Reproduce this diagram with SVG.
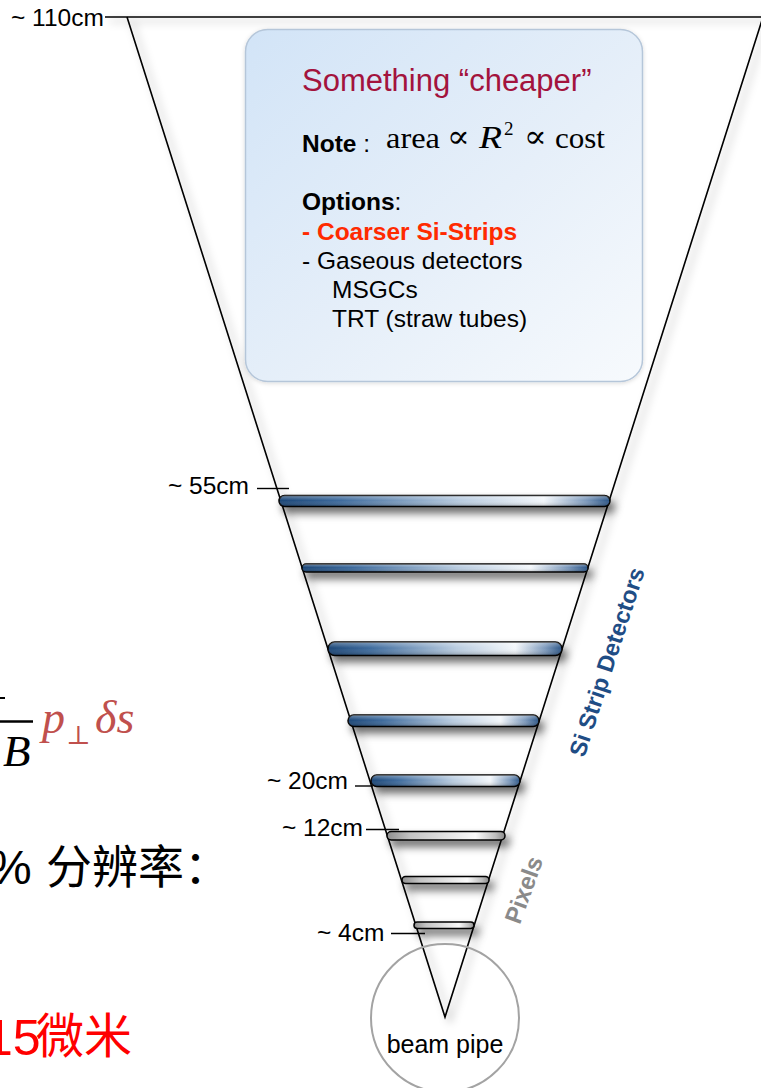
<svg xmlns="http://www.w3.org/2000/svg" width="761" height="1088" viewBox="0 0 761 1088">
  <style>
    .lbl { font-family: "Liberation Sans", Arial, sans-serif; font-size: 24.5px; fill: #000; }
    .box-txt { font-family: "Liberation Sans", Arial, sans-serif; font-size: 24.5px; }
    .math { font-family: "Liberation Serif", "DejaVu Serif", serif; font-size: 29px; fill: #000; }
    .prop { font-family: "DejaVu Serif", serif; font-size: 31px; }
    .edge { stroke: #000; stroke-width: 1.6; fill: none; }
    .tick { stroke: #000; stroke-width: 1.4; }
    .bar { stroke: #000; stroke-width: 1.5; }
  </style>
  <defs>
    <linearGradient id="blueTube" x1="0" y1="0" x2="1" y2="0">
      <stop offset="0" stop-color="#1b4677"/>
      <stop offset="0.18" stop-color="#3d6a9c"/>
      <stop offset="0.55" stop-color="#b9cce0"/>
      <stop offset="0.8" stop-color="#f3f7fb"/>
      <stop offset="0.93" stop-color="#7b98bb"/>
      <stop offset="1" stop-color="#2a5486"/>
    </linearGradient>
    <linearGradient id="greyTube" x1="0" y1="0" x2="1" y2="0">
      <stop offset="0" stop-color="#8f8f8f"/>
      <stop offset="0.2" stop-color="#c4c4c4"/>
      <stop offset="0.75" stop-color="#fafafa"/>
      <stop offset="0.92" stop-color="#bdbdbd"/>
      <stop offset="1" stop-color="#8a8a8a"/>
    </linearGradient>
    <linearGradient id="tubeGloss" x1="0" y1="0" x2="0" y2="1">
      <stop offset="0" stop-color="#fff" stop-opacity="0.35"/>
      <stop offset="0.45" stop-color="#fff" stop-opacity="0"/>
      <stop offset="1" stop-color="#000" stop-opacity="0.25"/>
    </linearGradient>
    <linearGradient id="boxFill" x1="0" y1="0" x2="1" y2="1">
      <stop offset="0" stop-color="#d2e4f7"/>
      <stop offset="0.55" stop-color="#e6eff9"/>
      <stop offset="1" stop-color="#f7fafd"/>
    </linearGradient>
    <filter id="coneShadow" x="-20%" y="-5%" width="140%" height="110%">
      <feDropShadow dx="5" dy="4" stdDeviation="4" flood-color="#000" flood-opacity="0.35"/>
    </filter>
    <filter id="tubeShadow" x="-10%" y="-100%" width="125%" height="400%">
      <feDropShadow dx="4" dy="6" stdDeviation="4" flood-color="#000" flood-opacity="0.6"/>
    </filter>
    <filter id="boxShadow" x="-10%" y="-10%" width="120%" height="120%">
      <feDropShadow dx="0" dy="1" stdDeviation="2" flood-color="#000" flood-opacity="0.15"/>
    </filter>
  </defs>

  <rect width="761" height="1088" fill="#fff"/>

  <!-- partial formulas and text on the left -->
  <g id="side-text">
    <line x1="0" y1="698" x2="5" y2="698" stroke="#000" stroke-width="2"/>
    <line x1="0" y1="721.5" x2="33" y2="721.5" stroke="#000" stroke-width="2.6"/>
    <text x="3" y="766" font-family="Liberation Serif, DejaVu Serif, serif" font-style="italic" font-size="45" fill="#000">B</text>
    <g font-family="Liberation Serif, DejaVu Serif, serif" font-style="italic" fill="#c0504d">
      <text x="42" y="733" font-size="46">p</text>
      <text x="66" y="744" font-size="26" font-style="normal">⊥</text>
      <text x="95" y="733" font-size="46">δs</text>
    </g>
    <text x="-11" y="884" font-family="Liberation Sans, Arial, sans-serif" font-size="48" fill="#000">%</text>
    <text x="46" y="883" font-family="Noto Sans CJK SC, sans-serif" font-size="46" fill="#000">分辨率：</text>
    <text x="-15" y="1055" font-family="Liberation Sans, Arial, sans-serif" font-size="50" fill="#ff0000">15</text>
    <text x="36" y="1053" font-family="Noto Sans CJK SC, sans-serif" font-size="48" fill="#ff0000">微米</text>
  </g>

  <!-- detector cone outline -->
  <g id="cone" filter="url(#coneShadow)">
    <polyline class="edge" points="105,17 763,17"/>
    <polyline class="edge" points="127,17 445,1017 763,17"/>
  </g>

  <!-- silicon strip layers -->
  <g id="strip-layers" filter="url(#tubeShadow)">
    <g id="strip-1"><rect class="bar" x="279" y="495.5" width="331" height="11" rx="5.5" fill="url(#blueTube)"/><rect x="279" y="495.5" width="331" height="11" rx="5.5" fill="url(#tubeGloss)"/></g>
    <g id="strip-2"><rect class="bar" x="302" y="564" width="286" height="8" rx="4" fill="url(#blueTube)"/><rect x="302" y="564" width="286" height="8" rx="4" fill="url(#tubeGloss)"/></g>
    <g id="strip-3"><rect class="bar" x="328" y="642" width="234" height="13.5" rx="6.7" fill="url(#blueTube)"/><rect x="328" y="642" width="234" height="13.5" rx="6.7" fill="url(#tubeGloss)"/></g>
    <g id="strip-4"><rect class="bar" x="348" y="715" width="191" height="11.5" rx="5.7" fill="url(#blueTube)"/><rect x="348" y="715" width="191" height="11.5" rx="5.7" fill="url(#tubeGloss)"/></g>
    <g id="strip-5"><rect class="bar" x="371" y="775" width="149" height="11.5" rx="5.7" fill="url(#blueTube)"/><rect x="371" y="775" width="149" height="11.5" rx="5.7" fill="url(#tubeGloss)"/></g>
  </g>

  <!-- pixel layers -->
  <g id="pixel-layers" filter="url(#tubeShadow)">
    <g id="pixel-1"><rect class="bar" x="387" y="831.5" width="118" height="8.5" rx="4.2" fill="url(#greyTube)"/></g>
    <g id="pixel-2"><rect class="bar" x="402" y="876.5" width="87" height="7" rx="3.5" fill="url(#greyTube)"/></g>
    <g id="pixel-3"><rect class="bar" x="414" y="922" width="60" height="6.5" rx="3.2" fill="url(#greyTube)"/></g>
  </g>

  <!-- radius labels -->
  <g id="radius-labels">
    <g id="r110"><text class="lbl" x="11" y="26">~ 110cm</text></g>
    <g id="r55"><text class="lbl" x="168" y="494">~ 55cm</text><line class="tick" x1="257" y1="488.5" x2="289" y2="488.5"/></g>
    <g id="r20"><text class="lbl" x="267" y="789">~ 20cm</text><line class="tick" x1="355" y1="786" x2="373" y2="786"/></g>
    <g id="r12"><text class="lbl" x="282" y="836">~ 12cm</text><line class="tick" x1="366" y1="829.5" x2="399" y2="829.5"/></g>
    <g id="r4"><text class="lbl" x="317" y="941">~ 4cm</text><line class="tick" x1="391" y1="933.5" x2="425" y2="933.5"/></g>
  </g>

  <!-- sub-detector names -->
  <g id="si-strip-label">
    <text transform="translate(607,662) rotate(-72)" text-anchor="middle" y="8" font-family="Liberation Sans, Arial, sans-serif" font-weight="bold" font-size="23.5" fill="#1f4d85">Si Strip Detectors</text>
  </g>
  <g id="pixels-label">
    <text transform="translate(524,890) rotate(-70)" text-anchor="middle" y="8" font-family="Liberation Sans, Arial, sans-serif" font-weight="bold" font-size="24" fill="#8a8a8a">Pixels</text>
  </g>

  <!-- beam pipe -->
  <g id="beam-pipe">
    <circle cx="445" cy="1018" r="74" fill="none" stroke="#a3a3a3" stroke-width="2"/>
    <text class="lbl" x="445" y="1053" text-anchor="middle" style="font-size:25px">beam pipe</text>
  </g>

  <!-- note box -->
  <g id="note-box">
    <rect x="245.5" y="29.5" width="397" height="352" rx="22" fill="url(#boxFill)" stroke="#b5c6d9" stroke-width="1.5" filter="url(#boxShadow)"/>
    <text x="302" y="91" font-family="Liberation Sans, Arial, sans-serif" font-size="31" fill="#a3133d">Something “cheaper”</text>
    <text class="box-txt" x="302" y="152" fill="#000"><tspan font-weight="bold">Note</tspan> :</text>
    <g class="math">
      <text x="386" y="148" textLength="54" lengthAdjust="spacingAndGlyphs">area</text>
      <text class="prop" x="447" y="147" textLength="23" lengthAdjust="spacingAndGlyphs">∝</text>
      <text x="479" y="148" font-style="italic" font-size="31" textLength="23" lengthAdjust="spacingAndGlyphs">R</text>
      <text x="504" y="135" font-size="19">2</text>
      <text class="prop" x="524" y="147" textLength="23" lengthAdjust="spacingAndGlyphs">∝</text>
      <text x="555" y="148" textLength="50" lengthAdjust="spacingAndGlyphs">cost</text>
    </g>
    <text class="box-txt" x="302" y="210" fill="#000"><tspan font-weight="bold">Options</tspan>:</text>
    <text class="box-txt" x="302" y="240" font-weight="bold" fill="#ff2a00">- Coarser Si-Strips</text>
    <text class="box-txt" x="302" y="269" fill="#000">- Gaseous detectors</text>
    <text class="box-txt" x="332" y="298" fill="#000">MSGCs</text>
    <text class="box-txt" x="332" y="327" fill="#000">TRT (straw tubes)</text>
  </g>
</svg>
